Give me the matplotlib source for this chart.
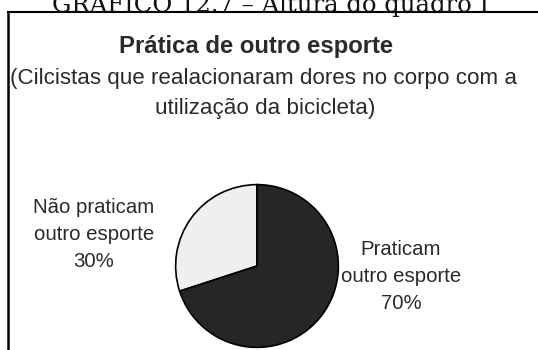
import matplotlib.pyplot as plt
from matplotlib.lines import Line2D

# Data
labels = [["Não praticam", "outro esporte", "30%"], ["Praticam", "outro esporte", "70%"]]
values = [30, 70]
colors = ["#efefef", "#262626"]

W, H = 538, 350
fig = plt.figure(figsize=(W / 100, H / 100), dpi=100)
fig.patch.set_facecolor("white")

def fx(px):
    return px / W

def fy(py):
    return 1 - py / H

# Header (clipped at the top, as in the scanned page)
fig.text(fx(271), fy(12), "GRÁFICO 12.7 – Altura do quadro I", family="DejaVu Serif",
         fontsize=17.5, ha="center", va="baseline", color="#111")

# Frame (top and left border only)
fig.add_artist(Line2D([fx(8), 1], [fy(12), fy(12)], color="black", lw=1.5))
fig.add_artist(Line2D([fx(8), fx(8)], [fy(12), 0], color="black", lw=1.8))

sans = "Liberation Sans"
fig.text(fx(256), fy(53), "Prática de outro esporte", family=sans, fontweight="bold",
         fontsize=17.2, ha="center", va="baseline", color="#2a2a2a")
fig.text(fx(263), fy(84), "(Cilcistas que realacionaram dores no corpo com a",
         family=sans, fontsize=16.1, ha="center", va="baseline", color="#2a2a2a")
fig.text(fx(265), fy(114), "utilização da bicicleta)",
         family=sans, fontsize=16.1, ha="center", va="baseline", color="#2a2a2a")

# Pie
cx, cy, r = 257, 266, 83
ax = fig.add_axes([fx(cx - r), fy(cy + r), (2 * r) / W, (2 * r) / H])
ax.pie(values, colors=colors, startangle=90, counterclock=True,
       wedgeprops=dict(edgecolor="black", linewidth=1.2))
ax.set_xlim(-1.02, 1.02)
ax.set_ylim(-1.02, 1.02)
ax.axis("off")

# Slice labels, one line at a time
for lines, x, y0 in [(labels[0], 94, 213), (labels[1], 401, 255)]:
    for i, line in enumerate(lines):
        fig.text(fx(x), fy(y0 + 27 * i), line, family=sans, fontsize=14.7,
                 ha="center", va="baseline", color="#2a2a2a")

fig.savefig("out.png", dpi=100)
